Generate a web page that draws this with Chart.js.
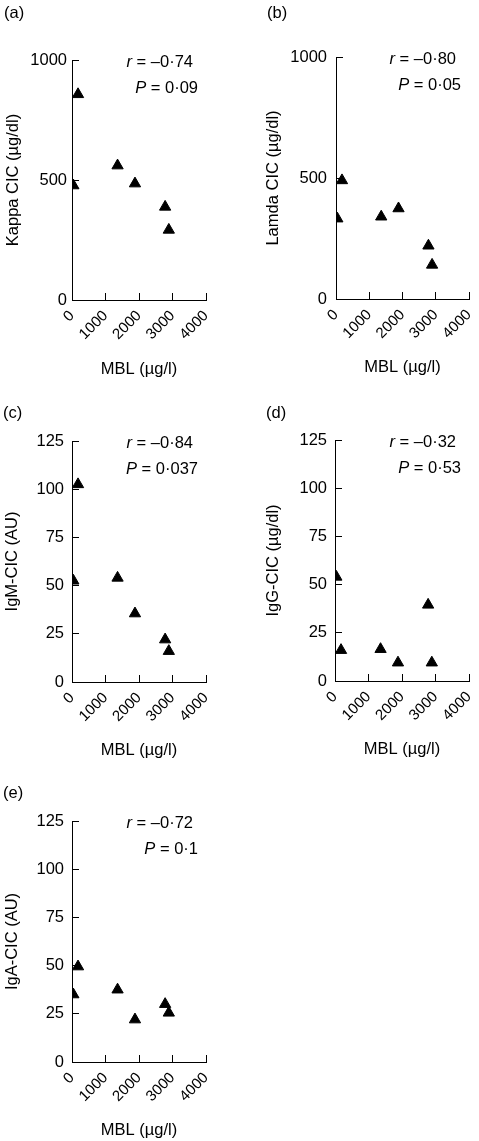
<!DOCTYPE html>
<html>
<head>
<meta charset="utf-8">
<script src="https://cdn.jsdelivr.net/npm/chart.js@4.4.0/dist/chart.umd.min.js"></script>
<style>
  body { margin: 0; background: #fff; }
  #wrap { position: relative; width: 479px; height: 1141px; background: #fff; }
  canvas { position: absolute; }
</style>
</head>
<body>
<div id="wrap"></div>
<script>
// MBL (x) for each patient, shared by all five panels
const mblValues = [40, 180, 1360, 1880, 2780, 2890];

// circulating immune complexes, same patient order as mblValues
const kappaCic = [477, 857, 560, 485, 388, 292];
const lamdaCic = [332, 490, 340, 374, 220, 141];
const igmCic = [52.5, 102.5, 54, 35.5, 22, 16];
const iggCic = [54, 16, 16.5, 9.5, 39.5, 9.5];
const igaCic = [35, 49.5, 37.5, 22, 30, 25.5];

// tick labels
const xTickValues = [0, 1000, 2000, 3000, 4000];
const yTicksLight = [0, 500, 1000];
const yTicksIg = [0, 25, 50, 75, 100, 125];

// texts
const panelLetters = ['(a)', '(b)', '(c)', '(d)', '(e)'];
const yTitles = ['Kappa CIC (µg/dl)', 'Lamda CIC (µg/dl)', 'IgM-CIC (AU)', 'IgG-CIC (µg/dl)', 'IgA-CIC (AU)'];
const rTexts = ['–0·74', '–0·80', '–0·84', '–0·32', '–0·72'];
const pTexts = ['0·09', '0·05', '0·037', '0·53', '0·1'];
const xTitle = 'MBL (µg/l)';

const seriesList = [kappaCic, lamdaCic, igmCic, iggCic, igaCic];
const yTickList = [yTicksLight, yTicksLight, yTicksIg, yTicksIg, yTicksIg];

// where each panel sits on the page (pixels)
const layouts = [
  {left: 0,   top: 0,   w: 240, h: 380, pl: 72, pr: 206, pt: 60, pb: 300, yTitleX: 13, xTitleY: 369, lx: 4,  ly: 13, gap: 5},
  {left: 240, top: 0,   w: 239, h: 380, pl: 96, pr: 229, pt: 57, pb: 299, yTitleX: 33, xTitleY: 367, lx: 27, ly: 13, gap: 9},
  {left: 0,   top: 380, w: 240, h: 380, pl: 72, pr: 206, pt: 61, pb: 302, yTitleX: 12, xTitleY: 370, lx: 3,  ly: 33, gap: 8},
  {left: 240, top: 380, w: 239, h: 380, pl: 95, pr: 229, pt: 60, pb: 301, yTitleX: 33, xTitleY: 369, lx: 26, ly: 33, gap: 8},
  {left: 0,   top: 760, w: 240, h: 381, pl: 72, pr: 206, pt: 61, pb: 302, yTitleX: 12, xTitleY: 370, lx: 3,  ly: 33, gap: 8}
];

const fam = '"Liberation Sans", Arial, sans-serif';
const tickLen = -7;  // negative = ticks point into the plot

// draws panel letter and the r / P text
const panelText = {
  id: 'panelText',
  afterDraw(chart, args, opts) {
    const ctx = chart.ctx;
    const area = chart.chartArea;
    ctx.save();
    ctx.fillStyle = '#000';
    ctx.textBaseline = 'middle';
    ctx.font = '16.5px ' + fam;
    ctx.textAlign = 'left';
    ctx.fillText(opts.letter, opts.lx, opts.ly);

    function rich(parts, rightX, y) {
      let total = 0;
      parts.forEach(p => {
        ctx.font = (p.it ? 'italic ' : '') + '16.5px ' + fam;
        p.w = ctx.measureText(p.t).width;
        total += p.w;
      });
      let x = rightX - total;
      parts.forEach(p => {
        ctx.font = (p.it ? 'italic ' : '') + '16.5px ' + fam;
        ctx.fillText(p.t, x, y);
        x += p.w;
      });
    }
    rich([{t: 'r', it: true}, {t: ' = ' + opts.r}], area.right - 13, area.top + 2);
    rich([{t: 'P', it: true}, {t: ' = ' + opts.p}], area.right - 8, area.top + 28);
    ctx.restore();
  }
};

const wrap = document.getElementById('wrap');

for (let i = 0; i < 5; i++) {
  let L = layouts[i];
  let cv = document.createElement('canvas');
  cv.width = L.w;
  cv.height = L.h;
  cv.style.left = L.left + 'px';
  cv.style.top = L.top + 'px';
  cv.style.width = L.w + 'px';
  cv.style.height = L.h + 'px';
  wrap.appendChild(cv);

  let pts = [];
  for (let j = 0; j < mblValues.length; j++) {
    pts.push({x: mblValues[j], y: seriesList[i][j]});
  }
  let yt = yTickList[i];

  new Chart(cv, {
    type: 'scatter',
    data: {
      datasets: [{
        data: pts,
        pointStyle: 'triangle',
        pointRadius: 6.5,
        backgroundColor: '#000',
        borderColor: '#000',
        borderWidth: 1
      }]
    },
    options: {
      responsive: false,
      animation: false,
      devicePixelRatio: 1,
      layout: {padding: {left: 0, top: L.pt, right: L.w - L.pr, bottom: 0}},
      plugins: {
        legend: {display: false},
        tooltip: {enabled: false},
        panelText: {letter: panelLetters[i], lx: L.lx, ly: L.ly, r: rTexts[i], p: pTexts[i]}
      },
      scales: {
        x: {
          type: 'linear',
          position: 'bottom',
          min: 0,
          max: 4000,
          afterBuildTicks: s => { s.ticks = xTickValues.map(v => ({value: v})); },
          afterFit: s => {
            s.height = L.h - L.pb;
            s.paddingLeft = 0;
            s.paddingRight = 0;
          },
          grid: {drawOnChartArea: false, drawTicks: true, tickLength: tickLen, color: '#000', lineWidth: 1},
          border: {display: true, color: '#000', width: 1},
          ticks: {
            autoSkip: false, minRotation: 45, maxRotation: 45, padding: 14,
            color: '#000', font: {family: fam, size: 15},
            callback: v => String(v)
          },
          title: {
            display: true, text: xTitle, color: '#000',
            font: {family: fam, size: 16.5, lineHeight: 1.2},
            padding: {top: 0, bottom: L.h - L.xTitleY - 9.9}
          }
        },
        y: {
          type: 'linear',
          min: yt[0],
          max: yt[yt.length - 1],
          afterBuildTicks: s => { s.ticks = yt.map(v => ({value: v})); },
          afterFit: s => {
            s.width = L.pl;
            s.paddingTop = 0;
            s.paddingBottom = 0;
          },
          grid: {drawOnChartArea: false, drawTicks: true, tickLength: tickLen, color: '#000', lineWidth: 1},
          border: {display: true, color: '#000', width: 1},
          ticks: {
            autoSkip: false, padding: L.gap - tickLen,
            color: '#000', font: {family: fam, size: 16.5},
            callback: v => String(v)
          },
          title: {
            display: true, text: yTitles[i], color: '#000',
            font: {family: fam, size: 16.5, lineHeight: 1.2},
            padding: {top: L.yTitleX - 9.9, bottom: 0}
          }
        }
      }
    },
    plugins: [panelText]
  });
}
</script>
</body>
</html>
